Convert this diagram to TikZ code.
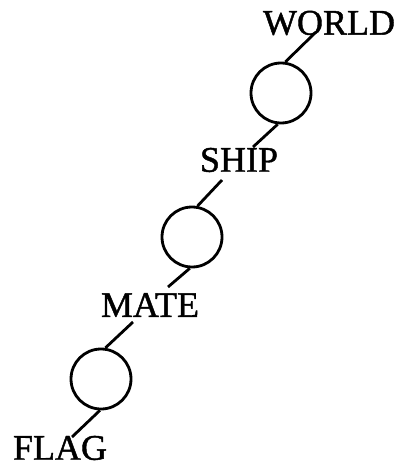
\documentclass[tikz,border=0pt]{standalone}
\usepackage{fontspec}
\setmainfont{Liberation Serif}
\newfontfamily\wordfont[FakeBold=1.2]{Liberation Serif}
\begin{document}
\begin{tikzpicture}[x=1pt,y=-1pt,
  word/.style={inner sep=0pt,font=\wordfont\fontsize{36}{40}\selectfont},
  ring/.style={circle,draw,line width=2.8pt,minimum size=60pt,inner sep=0pt},
  link/.style={line width=2.8pt}]
\useasboundingbox (0,0) rectangle (404,468);
\node[word] (world) at (329,23) {WORLD};
\node[word] (ship) at (239,160) {SHIP};
\node[word] (mate) at (150,305) {MATE};
\node[word] (flag) at (60,448) {FLAG};
\node[ring] (c1) at (281,93) {};
\node[ring] (c2) at (192,237) {};
\node[ring] (c3) at (101,379) {};
\coordinate (wend) at (316,32);
\coordinate (stop) at (253,147);
\coordinate (sbot) at (222,180);
\coordinate (mtop) at (168,287);
\coordinate (mbot) at (133,322);
\coordinate (ftop) at (72,437);
\draw[link] (wend) -- (c1.82);
\draw[link] (c1.-96) -- (stop);
\draw[link] (sbot) -- (c2.80);
\draw[link] (c2.-94) -- (mtop);
\draw[link] (mbot) -- (c3.82);
\draw[link] (c3.-92) -- (ftop);
\end{tikzpicture}
\end{document}
